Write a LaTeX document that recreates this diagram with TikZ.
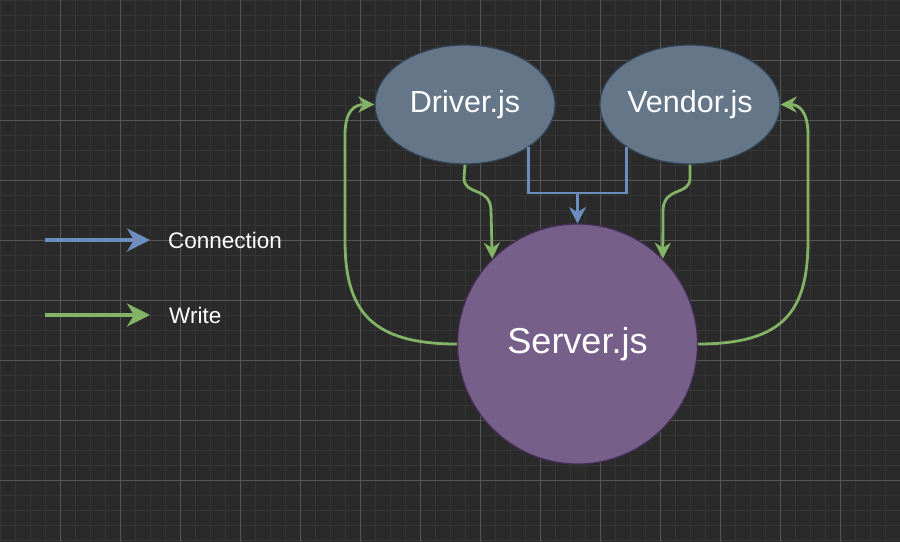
\documentclass[tikz,border=0pt]{standalone}
\usepackage{fontspec}
\setmainfont{Liberation Sans}
\usetikzlibrary{arrows.meta,shapes.geometric}
\definecolor{canvas}{HTML}{2A2A2A}
\definecolor{gridminor}{HTML}{353535}
\definecolor{gridmajor}{HTML}{565656}
\definecolor{slate}{HTML}{647687}
\definecolor{slateline}{HTML}{314354}
\definecolor{plum}{HTML}{76608A}
\definecolor{plumline}{HTML}{432D57}
\definecolor{linkblue}{HTML}{6C8EBF}
\definecolor{writegreen}{HTML}{82B366}

\begin{document}
\begin{tikzpicture}[
  x=1pt,y=-1pt,
  connection/.style={-{Stealth[length=16pt,width=16pt,inset=5pt]},line width=2.8pt,draw=linkblue},
  write/.style={-{Stealth[length=16pt,width=16pt,inset=5pt]},line width=2.8pt,draw=writegreen},
  legendarrow/.style={-{Stealth[length=23pt,width=23pt,inset=7pt]},line width=4.3pt},
  module/.style={ellipse,draw=slateline,fill=slate,line width=1.2pt,
    minimum width=180pt,minimum height=119pt,inner sep=0pt,text=white,
    font=\fontsize{30.5}{36}\selectfont},
  hub/.style={circle,draw=plumline,fill=plum,line width=1.2pt,
    minimum size=240pt,inner sep=0pt,text=white,font=\fontsize{36}{42}\selectfont},
  legendtext/.style={anchor=west,inner sep=0pt,text=white,font=\fontsize{22.5}{27}\selectfont}
]
\useasboundingbox (0,0) rectangle (900,542);
\fill[canvas] (0,0) rectangle (900,542);
% grid
\foreach \gx in {0,15,...,900} \draw[gridminor,line width=1pt] (\gx,0) -- (\gx,542);
\foreach \gy in {0,15,...,540} \draw[gridminor,line width=1pt] (0,\gy) -- (900,\gy);
\foreach \gx in {60,120,...,840} \draw[gridmajor,line width=0.8pt] (\gx,0) -- (\gx,542);
\foreach \gy in {60,120,...,480} \draw[gridmajor,line width=0.8pt] (0,\gy) -- (900,\gy);

\node[module] (driver) at (465,104.5) {Driver.js};
\node[module] (vendor) at (690,104.5) {Vendor.js};
\node[hub] (server) at (577.5,344) {Server.js};

% connections
\coordinate (junction) at (577.5,193);
\draw[connection] (driver.-34) |- (junction) -- (server.north);
\draw[connection] (vendor.-146) |- (junction) -- (server.north);

% writes
\draw[write] (driver.south) -- (464,178) .. controls (464,196) and (490,186) .. (491,210) -- (server.135);
\draw[write] (vendor.south) -- (690,178) .. controls (690,196) and (664,186) .. (663,210) -- (server.45);
\draw[write] (server.west) .. controls (370,344) and (345,310) .. (345,240) -- (345,135)
  .. controls (345,110) and (355,104.5) .. (driver.west);
\draw[write] (server.east) .. controls (785,344) and (808,310) .. (808,240) -- (808,135)
  .. controls (808,110) and (798,104.5) .. (vendor.east);

% legend
\node[legendtext] (connlabel) at (168,240) {Connection};
\node[legendtext] (writelabel) at (169,315) {Write};
\coordinate (connstart) at (45,240);
\coordinate (connend) at (150,240);
\coordinate (writestart) at (45,315);
\coordinate (writeend) at (150,315);
\draw[legendarrow,draw=linkblue] (connstart) -- (connend);
\draw[legendarrow,draw=writegreen] (writestart) -- (writeend);
\end{tikzpicture}
\end{document}
